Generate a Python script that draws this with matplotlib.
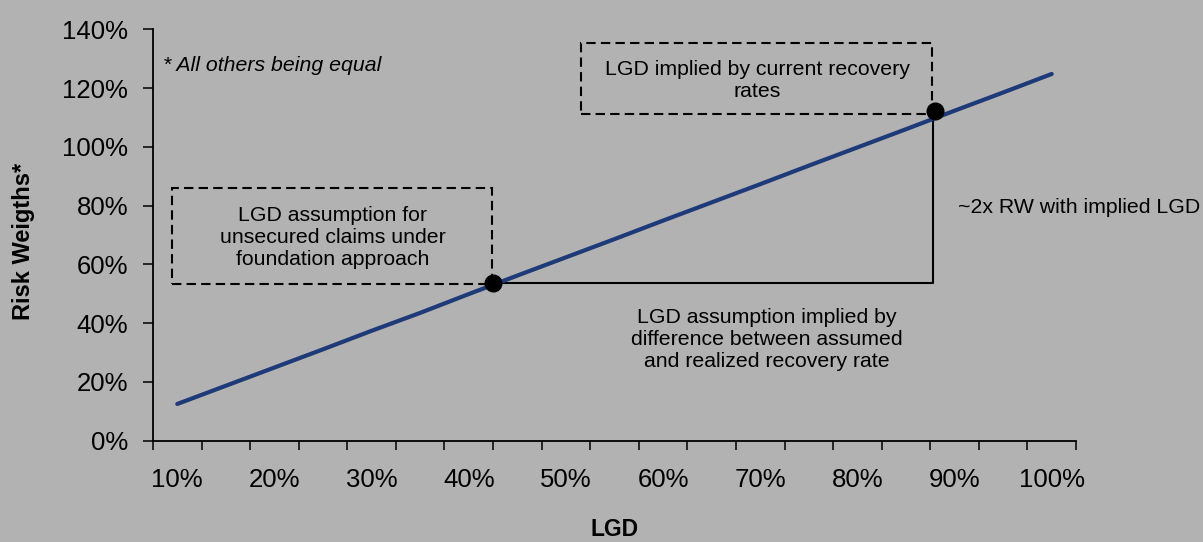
import numpy as np
import matplotlib
matplotlib.use("Agg")
import matplotlib.pyplot as plt
from matplotlib.patches import Rectangle

plt.rcParams['font.family'] = ['Liberation Sans', 'DejaVu Sans']

# Data: LGD (%) vs risk weight (%)
lgd = [10, 15, 20, 25, 30, 35, 40, 45, 50, 55, 60, 65, 70, 75, 80, 85, 90, 95, 100]
risk_weight = [12.5, 18.7, 24.9, 31.1, 37.4, 43.5, 49.9, 56.2, 62.4, 68.6, 74.9,
               81.1, 87.3, 93.6, 99.8, 106.0, 112.3, 118.5, 124.8]
xtick_labels = ['10%', '20%', '30%', '40%', '50%', '60%', '70%', '80%', '90%', '100%']
ytick_values = [0, 20, 40, 60, 80, 100, 120, 140]

# annotation points (LGD %, RW %)
foundation_pt = (42.5, 53.6)
implied_pt = (88.0, 112.3)

bg = '#B2B2B2'
navy = '#1F3A78'
note_size = 15.3

fig = plt.figure(figsize=(12.03, 5.42), dpi=100, facecolor=bg)
ax = fig.add_axes([153 / 1203, 1 - 440.7 / 542, 923 / 1203, 411.4 / 542])
ax.set_facecolor(bg)

ax.plot(lgd, risk_weight, color=navy, lw=3, solid_capstyle='round', zorder=3)

ax.set_xlim(7.5, 102.5)
ax.set_ylim(0, 140)

# x axis: tick marks between categories, labels every other category
ax.set_xticks(np.arange(7.5, 103, 5))
ax.set_xticklabels([])
ax.set_xticks(range(10, 101, 10), minor=True)
ax.set_xticklabels(xtick_labels, minor=True)
ax.tick_params(axis='x', which='major', direction='out', length=6.5, width=1.1, color='black')
ax.tick_params(axis='x', which='minor', length=0, pad=20, labelsize=18.5)

ax.set_yticks(ytick_values)
ax.set_yticklabels([f'{v}%' for v in ytick_values])
ax.tick_params(axis='y', direction='out', length=7, width=1.1, pad=11, labelsize=18.5)

for s in ['top', 'right']:
    ax.spines[s].set_visible(False)
for s in ['left', 'bottom']:
    ax.spines[s].set_linewidth(1.3)
    ax.spines[s].set_color('black')

ax.set_ylabel('Risk Weigths*', fontsize=17, fontweight='bold')
ax.yaxis.set_label_coords(-0.128, 0.485)
ax.set_xlabel('LGD', fontsize=16.5, fontweight='bold')
ax.xaxis.set_label_coords(0.5, -0.189)

# dashed boxes
dash = (0, (4.5, 2.5))
ax.add_patch(Rectangle((9.5, 53.3), 42.4 - 9.5, 85.9 - 53.3, fill=False,
                       ec='black', lw=1.5, ls=dash, zorder=2))
ax.add_patch(Rectangle((51.55, 111.1), 87.65 - 51.55, 135.2 - 111.1, fill=False,
                       ec='black', lw=1.5, ls=dash, zorder=2, clip_on=False))

# solid connector
ax.plot([foundation_pt[0], 87.8, 87.8], [53.8, 53.8, implied_pt[1]],
        color='black', lw=1.5, zorder=2)

# dots
ax.plot(*foundation_pt, 'o', color='black', ms=12, zorder=4)
ax.plot(*implied_pt, 'o', color='black', ms=12, zorder=4, clip_on=False)

ax.text(26.0, 69.3, 'LGD assumption for\nunsecured claims under\nfoundation approach',
        ha='center', va='center', fontsize=note_size, linespacing=1.2)
ax.text(69.7, 122.7, 'LGD implied by current recovery\nrates',
        ha='center', va='center', fontsize=note_size, linespacing=1.2)
ax.text(70.7, 34.3, 'LGD assumption implied by\ndifference between assumed\nand realized recovery rate',
        ha='center', va='center', fontsize=note_size, linespacing=1.2)
ax.text(90.35, 79.2, '~2x RW with implied LGD', ha='left', va='center',
        fontsize=note_size, clip_on=False)
ax.text(8.5, 127.8, '* All others being equal', ha='left', va='center',
        fontsize=note_size, style='italic')

fig.savefig('out.png', dpi=100, facecolor=bg)
